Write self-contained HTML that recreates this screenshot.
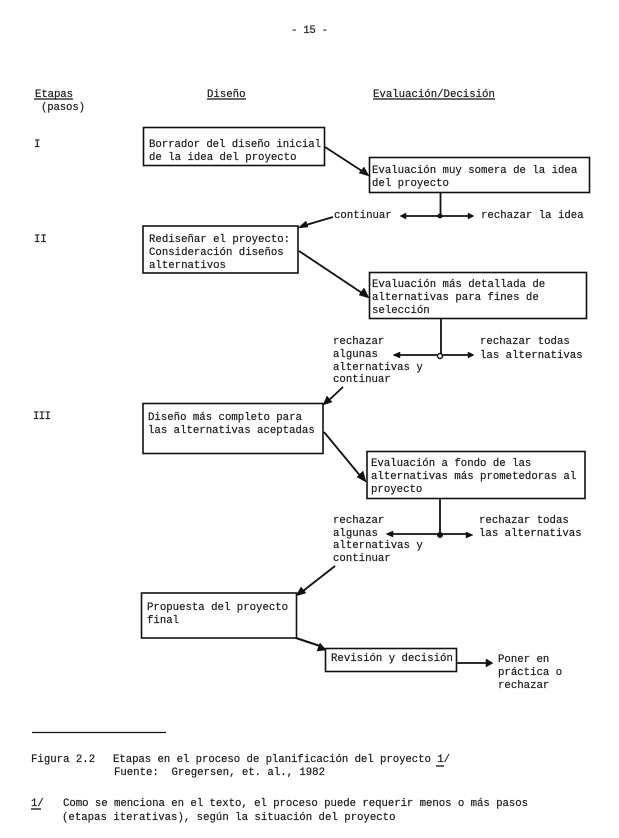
<!DOCTYPE html>
<html lang="es">
<head>
<meta charset="utf-8">
<title>Figura 2.2</title>
<style>
html,body{margin:0;padding:0;background:#fff}
svg{display:block}
text{font-family:"Liberation Mono",monospace;font-size:10.7px;fill:#1c1c1c;stroke:#1c1c1c;stroke-width:.2px;white-space:pre}
.b{fill:#fff;stroke:#111;stroke-width:1.6}
.l{fill:none;stroke:#111;stroke-width:1.3}
.t{stroke-width:1.8}
.h{fill:#111;stroke:#111;stroke-width:.5}
</style>
</head>
<body>
<svg width="619" height="838" viewBox="0 0 619 838" xmlns="http://www.w3.org/2000/svg">
<rect width="619" height="838" fill="#fff"/>
<text x="291" y="33" textLength="37">- 15 -</text>

<text x="35" y="97" textLength="38">Etapas</text><path class="l" d="M34 99H73"/>
<text x="41" y="110" textLength="44">(pasos)</text>
<text x="207" y="97">Diseño</text><path class="l" d="M207 99H246"/>
<text x="373" y="97">Evaluación/Decisión</text><path class="l" d="M373 99H495"/>
<text x="34" y="147">I</text>
<text x="34" y="242">II</text>
<text x="33" y="419" textLength="18">III</text>

<rect class="b" x="143.500" y="127.500" width="181" height="38"/>
<rect class="b" x="369.500" y="157.500" width="220" height="35"/>
<rect class="b" x="143" y="226" width="155" height="47"/>
<rect class="b" x="369.500" y="272.500" width="217" height="46"/>
<rect class="b" x="143" y="403.500" width="180" height="50"/>
<rect class="b" x="367" y="451.500" width="218" height="47"/>
<rect class="b" x="141.500" y="593" width="155" height="45"/>
<rect class="b" x="325.500" y="648.500" width="131" height="23"/>

<text x="149" y="147" textLength="172">Borrador del diseño inicial</text>
<text x="149" y="160">de la idea del proyecto</text>
<text x="372" y="173">Evaluación muy somera de la idea</text>
<text x="372" y="186">del proyecto</text>
<text x="149" y="242">Rediseñar el proyecto:</text>
<text x="149" y="255">Consideración diseños</text>
<text x="149" y="268">alternativos</text>
<text x="372" y="287">Evaluación más detallada de</text>
<text x="372" y="300">alternativas para fines de</text>
<text x="372" y="313">selección</text>
<text x="148" y="420">Diseño más completo para</text>
<text x="148" y="433">las alternativas aceptadas</text>
<text x="371" y="466">Evaluación a fondo de las</text>
<text x="371" y="479">alternativas más prometedoras al</text>
<text x="371" y="492">proyecto</text>
<text x="147" y="610">Propuesta del proyecto</text>
<text x="147" y="623">final</text>
<text x="331" y="661">Revisión y decisión</text>

<text x="334" y="218">continuar</text>
<text x="481" y="218">rechazar la idea</text>
<text x="333" y="344">rechazar</text>
<text x="333" y="357">algunas</text>
<text x="333" y="370">alternativas y</text>
<text x="333" y="382">continuar</text>
<text x="480" y="344">rechazar todas</text>
<text x="480" y="358">las alternativas</text>
<text x="333" y="523">rechazar</text>
<text x="333" y="536">algunas</text>
<text x="333" y="548">alternativas y</text>
<text x="333" y="561">continuar</text>
<text x="479" y="523">rechazar todas</text>
<text x="479" y="536">las alternativas</text>
<text x="498" y="662">Poner en</text>
<text x="498" y="675">práctica o</text>
<text x="498" y="688">rechazar</text>

<!-- connectors -->
<path class="l t" d="M325 147L365 173"/><path class="h" d="M369 176L359 173L364 167Z"/>
<path class="l t" d="M299 251L365 295"/><path class="h" d="M369 298L359 295L364 288Z"/>
<path class="l t" d="M324 432L362 478"/><path class="h" d="M366 482L357 477L363 471Z"/>
<path class="l t" d="M333 217L306 225"/><path class="h" d="M298 228L306 221L308 227Z"/>
<path class="l t" d="M343 387L328 401"/><path class="h" d="M323 405L327 396L332 402Z"/>
<path class="l t" d="M335 566L303 591"/><path class="h" d="M296 596L301 587L306 593Z"/>
<path class="l t" d="M296 638L320 646" style="stroke-width:2.200"/><path class="h" d="M326 650L317 651L320 643Z"/>

<path class="l t" d="M440.500 192V216"/>
<path class="l t" d="M404 216H471"/>
<path class="h" d="M400 216L406 213V219Z"/><path class="h" d="M474 216L468 213V219Z"/>
<circle cx="440" cy="216" r="2.500" fill="#111"/>

<path class="l t" d="M441 319V355"/>
<path class="l t" d="M397 355H470"/>
<path class="h" d="M393 355L400 352V358Z"/><path class="h" d="M474 355L468 352V358Z"/>
<circle cx="440" cy="356" r="2.500" fill="#fff" stroke="#111" stroke-width="1.500"/>

<path class="l t" d="M440 498V535"/>
<path class="l t" d="M390 534H468"/>
<path class="h" d="M386 534L393 531V537Z"/><path class="h" d="M473 535L466 532V538Z"/>
<circle cx="440" cy="535" r="3" fill="#111"/>

<path class="l t" d="M457 663H488"/><path class="h" d="M493 663L486 659V667Z"/>

<path class="l" d="M32 732.500H166"/>
<text x="31" y="762">Figura 2.2</text>
<text x="113" y="762" textLength="337">Etapas en el proceso de planificación del proyecto 1/</text>
<path class="l" d="M436 766H444"/>
<text x="114" y="775" textLength="211">Fuente:  Gregersen, et. al., 1982</text>
<text x="31" y="806">1/</text><path class="l" d="M31 809H41"/>
<text x="63" y="806" textLength="465">Como se menciona en el texto, el proceso puede requerir menos o más pasos</text>
<text x="62" y="820">(etapas iterativas), según la situación del proyecto</text>
</svg>
</body>
</html>
